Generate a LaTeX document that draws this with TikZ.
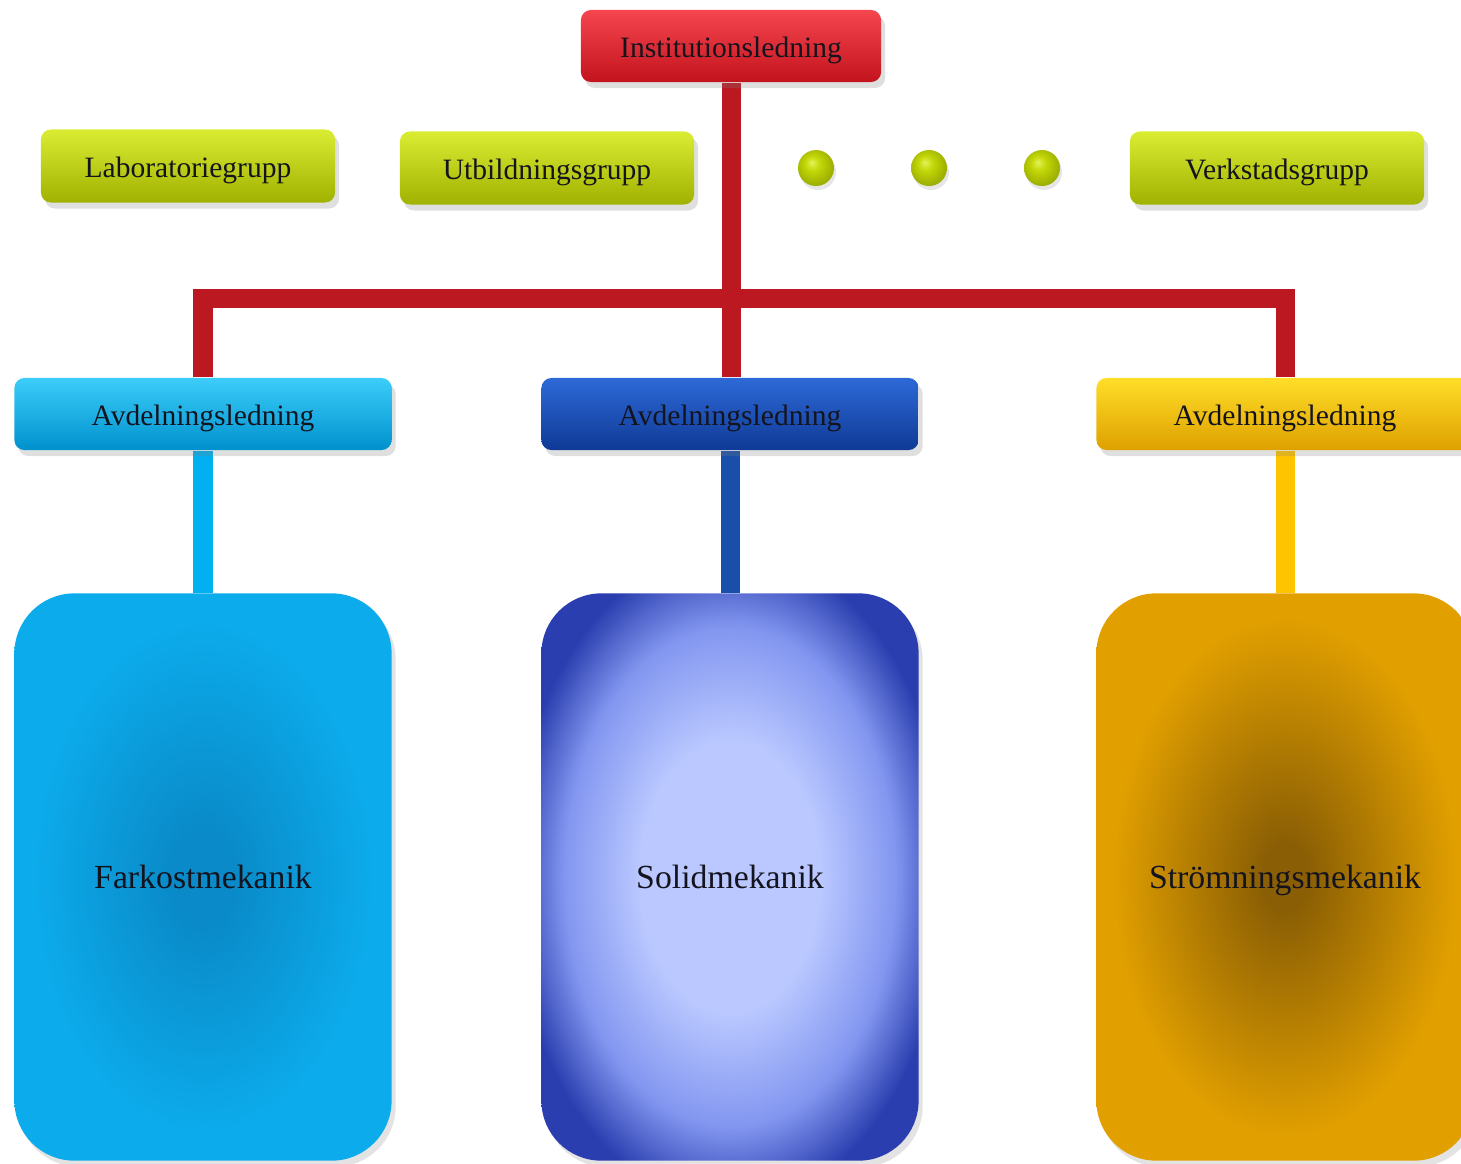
\documentclass[tikz,border=0pt]{standalone}
\usepackage{fontspec}
\setmainfont{Liberation Serif}
\usetikzlibrary{shadows,backgrounds}

\definecolor{redtop}{RGB}{245,70,80}
\definecolor{redmid}{RGB}{228,28,40}
\definecolor{redbot}{RGB}{195,20,30}
\definecolor{linkred}{RGB}{188,24,34}
\definecolor{limetop}{RGB}{218,236,50}
\definecolor{limemid}{RGB}{196,216,8}
\definecolor{limebot}{RGB}{160,178,0}
\definecolor{cyantop}{RGB}{60,205,250}
\definecolor{cyanmid}{RGB}{0,176,240}
\definecolor{cyanbot}{RGB}{0,145,205}
\definecolor{bluetop}{RGB}{45,105,215}
\definecolor{bluemid}{RGB}{22,82,190}
\definecolor{bluebot}{RGB}{15,58,150}
\definecolor{linkblue}{RGB}{25,78,170}
\definecolor{ambertop}{RGB}{255,222,40}
\definecolor{ambermid}{RGB}{255,196,0}
\definecolor{amberbot}{RGB}{222,160,0}
\definecolor{farkostin}{RGB}{10,138,200}
\definecolor{farkostout}{RGB}{12,172,236}
\definecolor{solidin}{RGB}{186,200,255}
\definecolor{solidmid}{RGB}{130,150,240}
\definecolor{solidout}{RGB}{42,62,175}
\definecolor{stromin}{RGB}{138,94,4}
\definecolor{stromout}{RGB}{226,160,0}
\definecolor{dotin}{RGB}{228,242,90}
\definecolor{dotout}{RGB}{150,168,0}
\definecolor{textdark}{RGB}{20,20,30}

\pgfdeclareradialshading{farkost}{\pgfpoint{0bp}{0bp}}{color(0bp)=(farkostin); color(4bp)=(farkostin); color(23bp)=(farkostout); color(50bp)=(farkostout)}
\pgfdeclareradialshading{solid}{\pgfpoint{0bp}{0bp}}{color(0bp)=(solidin); color(12bp)=(solidin); color(22bp)=(solidmid); color(29bp)=(solidout); color(50bp)=(solidout)}
\pgfdeclareradialshading{strom}{\pgfpoint{0bp}{0bp}}{color(0bp)=(stromin); color(3bp)=(stromin); color(23bp)=(stromout); color(50bp)=(stromout)}
\pgfdeclareradialshading{dotshade}{\pgfpoint{-6bp}{8bp}}{color(0bp)=(dotin); color(10bp)=(limemid); color(30bp)=(dotout); color(50bp)=(dotout)}

\tikzset{ b/.style = { rectangle % glossy box
        , rounded corners = 0.1cm
        , text = textdark
        , text height = 0.72em
        , text depth = 0.06em
        , drop shadow = {opacity=0.25, shadow xshift=0.04cm, shadow yshift=-0.06cm}
        , font = \fontsize{8.4}{10}\selectfont
        }
        , p/.style = { circle % dot
        , minimum width = 0.34cm
        , minimum height = 0.36cm
        , inner sep = 0pt
        , shading = dotshade
        , drop shadow = {opacity=0.2, shadow xshift=0.02cm, shadow yshift=-0.04cm}
        }
        }

\begin{document}
\begin{tikzpicture}[x=0.01cm, y=-0.01cm,
        top_style/.style={b, minimum width=3cm, minimum height=0.72cm, top color=redtop, middle color=redmid, bottom color=redbot},
        group_style/.style={b, minimum width=2.94cm, minimum height=0.73cm, top color=limetop, middle color=limemid, bottom color=limebot},
        head_style/.style={b, minimum width=3.77cm, minimum height=0.72cm},
        area_style/.style={rectangle, rounded corners=0.6cm, minimum width=3.77cm, minimum height=5.67cm, text=textdark, text height=0.72em, text depth=0.06em, font=\fontsize{9.6}{11}\selectfont, drop shadow={opacity=0.22, shadow xshift=0.04cm, shadow yshift=-0.06cm}},
        edge_style/.style={line width=0.19cm, line join=miter}]
        \useasboundingbox (0,0) rectangle (1461,1163);
        \clip (0,0) rectangle (1461,1163);

        \node [top_style](inst) at (731,46) {Institutionsledning};
        \node [group_style](g1) at (188,166) {Laboratoriegrupp};
        \node [group_style](g2) at (547,168) {Utbildningsgrupp};
        \node [p](p1) at (816,168) {};
        \node [p](p2) at (929,168) {};
        \node [p](p3) at (1042,168) {};
        \node [group_style](g3) at (1277,168) {Verkstadsgrupp};

        \node [head_style,top color=cyantop,middle color=cyanmid,bottom color=cyanbot](h1) at (203,414) {Avdelningsledning};
        \node [head_style,top color=bluetop,middle color=bluemid,bottom color=bluebot](h2) at (730,414) {Avdelningsledning};
        \node [head_style,top color=ambertop,middle color=ambermid,bottom color=amberbot](h3) at (1285,414) {Avdelningsledning};

        \node [area_style,shading=farkost](a1) at (203,877) {Farkostmekanik};
        \node [area_style,shading=solid](a2) at (730,877) {Solidmekanik};
        \node [area_style,shading=strom](a3) at (1285,877) {Strömningsmekanik};

        \coordinate (bar) at (731,298);
        \begin{pgfonlayer}{background}
            \draw [edge_style,draw=linkred] (inst.south) -- (inst.south |- h2.north);
            \draw [edge_style,draw=linkred] (h1.north) |- (bar) -| (h3.north);
            \draw [edge_style,draw=cyanmid] (h1.south) -- (a1.north);
            \draw [edge_style,draw=linkblue] (h2.south) -- (a2.north);
            \draw [edge_style,draw=ambermid] (h3.south) -- (a3.north);
        \end{pgfonlayer}
\end{tikzpicture}
\end{document}
